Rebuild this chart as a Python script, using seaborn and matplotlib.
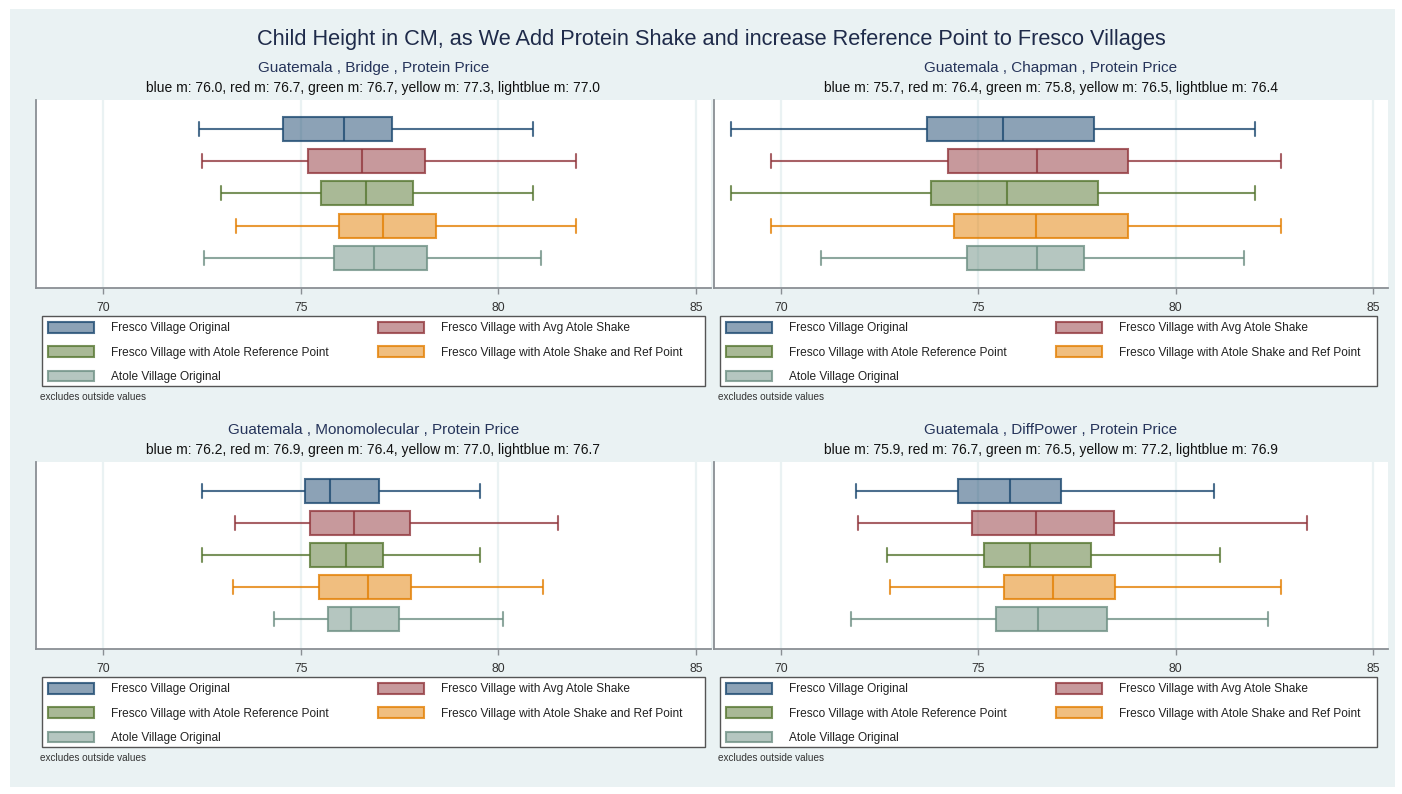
import matplotlib
matplotlib.use("Agg")
import matplotlib.pyplot as plt
from matplotlib.patches import Patch, Rectangle
from matplotlib.colors import to_rgba
import numpy as np
import seaborn as sns
import pandas as pd

sns.set_theme(style="white")
plt.rcParams["font.family"] = ["Liberation Sans", "DejaVu Sans"]

# ---- data: five-number summaries (lower whisker, Q1, median, Q3, upper whisker) ----
groups = [
    "Fresco Village Original",
    "Fresco Village with Avg Atole Shake",
    "Fresco Village with Atole Reference Point",
    "Fresco Village with Atole Shake and Ref Point",
    "Atole Village Original",
]

bridge = [
    [72.43, 74.55, 76.09, 77.32, 80.88],
    [72.51, 75.18, 76.56, 78.14, 81.96],
    [72.97, 75.52, 76.64, 77.84, 80.88],
    [73.37, 75.96, 77.09, 78.42, 81.96],
    [72.56, 75.84, 76.86, 78.19, 81.08],
]
chapman = [
    [68.73, 73.70, 75.63, 77.94, 82.00],
    [69.75, 74.24, 76.49, 78.78, 82.68],
    [68.73, 73.80, 75.72, 78.02, 82.00],
    [69.75, 74.39, 76.45, 78.78, 82.68],
    [71.00, 74.71, 76.49, 77.67, 81.72],
]
monomolecular = [
    [72.51, 75.11, 75.75, 76.98, 79.54],
    [73.33, 75.23, 76.34, 77.76, 81.50],
    [72.51, 75.23, 76.14, 77.08, 79.54],
    [73.29, 75.45, 76.70, 77.80, 81.12],
    [74.32, 75.70, 76.26, 77.48, 80.11],
]
diffpower = [
    [71.91, 74.49, 75.81, 77.10, 80.98],
    [71.94, 74.83, 76.45, 78.44, 83.33],
    [72.69, 75.15, 76.30, 77.86, 81.11],
    [72.76, 75.65, 76.90, 78.47, 82.66],
    [71.76, 75.45, 76.51, 78.25, 82.34],
]

panel_titles = [
    "Guatemala , Bridge , Protein Price",
    "Guatemala , Chapman , Protein Price",
    "Guatemala , Monomolecular , Protein Price",
    "Guatemala , DiffPower , Protein Price",
]
panel_subtitles = [
    "blue m: 76.0, red m: 76.7, green m: 76.7, yellow m: 77.3, lightblue m: 77.0",
    "blue m: 75.7, red m: 76.4, green m: 75.8, yellow m: 76.5, lightblue m: 76.4",
    "blue m: 76.2, red m: 76.9, green m: 76.4, yellow m: 77.0, lightblue m: 76.7",
    "blue m: 75.9, red m: 76.7, green m: 76.5, yellow m: 77.2, lightblue m: 76.9",
]
panel_stats = [bridge, chapman, monomolecular, diffpower]
x_ticks = [70, 75, 80, 85]

main_title = ("Child Height in CM, as We Add Protein Shake and increase "
              "Reference Point to Fresco Villages")

# ---- styling ----
base_colors = ["#1A476F", "#90353B", "#55752F", "#E37E00", "#6D8F83"]
fills = [to_rgba(c, 0.5) for c in base_colors]
edges = [to_rgba(c, 0.78) for c in base_colors]
bg = "#EAF2F3"
spine_col = "#8a8f94"
box_width = 0.75
cap_width = 0.43

W, H = 1402, 794
fig = plt.figure(figsize=(W / 100, H / 100), dpi=100, facecolor="white")


def fx(px):
    return px / W


def fy(py):
    return 1 - py / H


# light background of the graph region
fig.patches.append(Rectangle((fx(10), fy(787)), 1385 / W, 778 / H,
                             transform=fig.transFigure, facecolor=bg,
                             edgecolor="none", zorder=-5))

fig.text(fx(711), fy(40), main_title, ha="center", va="center",
         fontsize=15.7, color="#1f2b4a")

# panel geometry in pixels: (left, right, top, bottom)
boxes_px = [
    (36, 711, 100, 288),
    (714, 1388, 100, 288),
    (36, 711, 462, 649),
    (714, 1388, 462, 649),
]
# legend frames in pixels: (left, right)
legend_px = [(42, 705), (720, 1377), (42, 705), (720, 1377)]

for k, (l, r, t, b) in enumerate(boxes_px):
    ax = fig.add_axes([fx(l), fy(b), (r - l) / W, (b - t) / H])
    ax.set_facecolor("white")
    stats = panel_stats[k]
    for i, g in enumerate(groups):
        df = pd.DataFrame({"group": [g] * 5, "height": stats[i]})
        sns.boxplot(data=df, x="height", y="group", order=groups, orient="h",
                    width=box_width, whis=(0, 100), showfliers=False,
                    linewidth=1.5, linecolor=edges[i], saturation=1,
                    boxprops=dict(facecolor=fills[i], edgecolor=edges[i]),
                    ax=ax)
    # widen the whisker caps (short vertical lines narrower than the box)
    for ln in ax.lines:
        xd = np.asarray(ln.get_xdata(), dtype=float)
        yd = np.asarray(ln.get_ydata(), dtype=float)
        if len(xd) == 2 and np.isclose(xd[0], xd[1]):
            span = abs(yd[1] - yd[0])
            if 0 < span < box_width * 0.9:
                c = yd.mean()
                ln.set_ydata([c - cap_width / 2, c + cap_width / 2])
    ax.set_xlim(68.3, 85.38)
    ax.set_ylim(4.93, -0.89)
    ax.set_xticks(x_ticks)
    ax.set_xticklabels([str(v) for v in x_ticks], fontsize=8.7, color="#333333")
    ax.set_yticks([])
    ax.set_xlabel("")
    ax.set_ylabel("")
    ax.grid(axis="x", color=bg, linewidth=1.6, zorder=0)
    ax.set_axisbelow(True)
    for s in ["top", "right"]:
        ax.spines[s].set_visible(False)
    for s in ["left", "bottom"]:
        ax.spines[s].set_color(spine_col)
        ax.spines[s].set_linewidth(1.3)
    ax.tick_params(axis="x", bottom=True, length=4, width=1, color=spine_col, pad=6)

    cx = (l + r) / 2
    fig.text(fx(cx), fy(t - 32), panel_titles[k], ha="center", va="center",
             fontsize=11, color="#26345a")
    fig.text(fx(cx), fy(t - 12), panel_subtitles[k], ha="center", va="center",
             fontsize=10, color="#111111")

    # legend below each panel, entries filled row by row
    lx0, lx1 = legend_px[k]
    ly0, ly1 = b + 28, b + 98
    fig.patches.append(Rectangle((fx(lx0), fy(ly1)), (lx1 - lx0) / W, (ly1 - ly0) / H,
                                 transform=fig.transFigure, facecolor="white",
                                 edgecolor="#555555", linewidth=1.0, zorder=1))
    handles = [Patch(facecolor=fills[i], edgecolor=edges[i], linewidth=1.5)
               for i in range(len(groups))]
    order = [0, 2, 4, 1, 3]
    leg = fig.legend([handles[j] for j in order], [groups[j] for j in order],
                     loc="upper left", ncol=2,
                     bbox_to_anchor=(fx(lx0), fy(ly0)),
                     bbox_transform=fig.transFigure,
                     fontsize=8.6, frameon=False,
                     handlelength=3.85, handleheight=1.0, handletextpad=1.42,
                     labelspacing=1.0, borderpad=0.5, borderaxespad=0,
                     columnspacing=4.1)
    leg.set_zorder(2)
    for txt in leg.get_texts():
        txt.set_color("#222222")
    fig.text(fx(lx0 - 2), fy(ly1 + 11), "excludes outside values",
             ha="left", va="center", fontsize=7.2, color="#333333")

fig.savefig("out.png", dpi=100, facecolor="white")
